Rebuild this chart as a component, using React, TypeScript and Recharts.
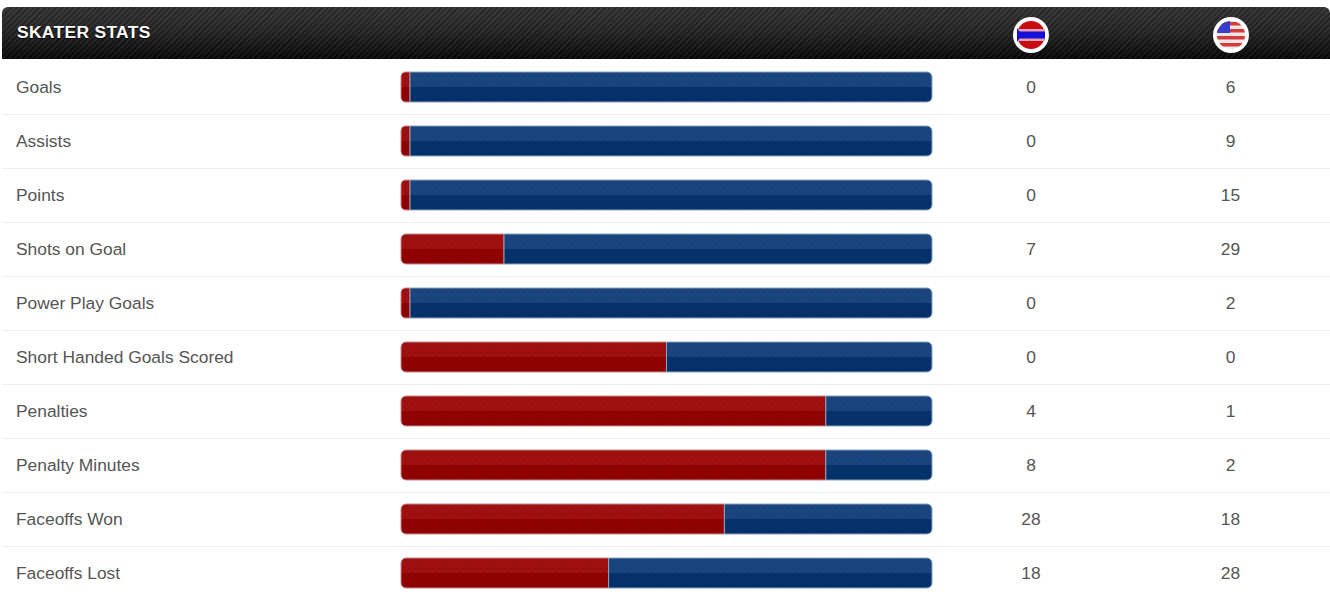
import { Bar, BarChart, XAxis, YAxis } from "recharts";

const categories = [
  "Goals",
  "Assists",
  "Points",
  "Shots on Goal",
  "Power Play Goals",
  "Short Handed Goals Scored",
  "Penalties",
  "Penalty Minutes",
  "Faceoffs Won",
  "Faceoffs Lost",
];
const homeValues = [0, 0, 0, 7, 0, 0, 4, 8, 28, 18];
const awayValues = [6, 9, 15, 29, 2, 0, 1, 2, 18, 28];
// bar shares as drawn, the site keeps a small sliver of red when the value is 0
const homeShare = [1.7, 1.7, 1.7, 19.4, 1.7, 50, 80, 80, 60.9, 39.1];
const awayShare = [98.3, 98.3, 98.3, 80.6, 98.3, 50, 20, 20, 39.1, 60.9];

const data = categories.map((name, i) => ({
  name,
  home: homeShare[i],
  away: awayShare[i],
}));

const RowTick = (props: any) => {
  const { y, index, payload } = props;
  const textProps = {
    y: y + 6,
    fontSize: 17.4,
    fill: "#555",
    fontFamily: "Liberation Sans",
  };
  return (
    <g>
      {index < categories.length - 1 && (
        <line x1={2} x2={1330} y1={y + 27.5} y2={y + 27.5} stroke="#eeeeee" />
      )}
      <text x={16} {...textProps}>
        {payload.value}
      </text>
      <text x={1031} textAnchor="middle" {...textProps}>
        {homeValues[index]}
      </text>
      <text x={1230.5} textAnchor="middle" {...textProps}>
        {awayValues[index]}
      </text>
    </g>
  );
};

// one tile per table row, split in two halves with a faint diagonal weave
const BarTexture = ({ id, top, bottom }: { id: string; top: string; bottom: string }) => (
  <pattern id={id} patternUnits="userSpaceOnUse" width={6} height={54}>
    <rect x={0} y={0} width={6} height={33} fill={top} />
    <rect x={0} y={33} width={6} height={21} fill={bottom} />
    {[18, 24, 30, 36, 42, 48].map((y) => (
      <path
        key={y}
        d={`M0 ${y + 6} L6 ${y}`}
        stroke="#000"
        strokeOpacity={0.05}
        strokeWidth={2}
      />
    ))}
  </pattern>
);

const HomeFlag = () => (
  <svg width={38} height={38} style={{ position: "absolute", left: 1012, top: 16 }}>
    <circle cx={19} cy={19} r={18} fill="#fff" />
    <circle cx={19} cy={19} r={14} fill="#c80c10" />
    <rect x={5} y={13} width={28} height={12} fill="#e0a0b0" />
    <rect x={5} y={15.5} width={28} height={7} fill="#1410d8" />
    <path d="M5 12 L10 19 L5 26 Z" fill="#1410d8" />
  </svg>
);

const AwayFlag = () => (
  <svg width={38} height={38} style={{ position: "absolute", left: 1212, top: 16 }}>
    <defs>
      <clipPath id="usClip">
        <circle cx={19} cy={19} r={14} />
      </clipPath>
    </defs>
    <circle cx={19} cy={19} r={18} fill="#fff" />
    <g clipPath="url(#usClip)">
      <rect x={5} y={5} width={28} height={28} fill="#f0e4e4" />
      <rect x={5} y={6} width={28} height={3.5} fill="#d23c3c" />
      <rect x={5} y={13} width={28} height={3.5} fill="#d23c3c" />
      <rect x={5} y={20} width={28} height={3.5} fill="#d23c3c" />
      <rect x={5} y={27} width={28} height={3.5} fill="#d23c3c" />
      <rect x={5} y={5} width={13} height={12} fill="#3a3ccc" />
    </g>
  </svg>
);

const App = () => {
  return (
    <div
      style={{
        position: "absolute",
        left: 0,
        top: 0,
        width: 1330,
        height: 597,
        overflow: "hidden",
        background: "#fff",
      }}
    >
      <BarChart
        width={1330}
        height={600}
        data={data}
        layout="vertical"
        barSize={30}
        margin={{ top: 60, right: 398, bottom: 0, left: 0 }}
      >
        <defs>
          <BarTexture id="redFill" top="#a21010" bottom="#920202" />
          <BarTexture id="blueFill" top="#1a4680" bottom="#05326c" />
        </defs>
        <XAxis type="number" domain={[0, 100]} hide />
        <YAxis
          type="category"
          dataKey="name"
          width={401}
          axisLine={false}
          tickLine={false}
          interval={0}
          tick={RowTick}
        />
        <Bar
          dataKey="home"
          stackId="a"
          fill="url(#redFill)"
          radius={[5, 0, 0, 5]}
          stroke="#c98a8a"
          strokeWidth={1}
          isAnimationActive={false}
        />
        <Bar
          dataKey="away"
          stackId="a"
          fill="url(#blueFill)"
          radius={[0, 5, 5, 0]}
          stroke="#8aa2c0"
          strokeWidth={1}
          isAnimationActive={false}
        />
      </BarChart>
      <div
        style={{
          position: "absolute",
          left: 2,
          top: 7,
          width: 1328,
          height: 52,
          borderRadius: "6px 6px 0 0",
          background:
            "repeating-linear-gradient(135deg, rgba(255,255,255,0.05) 0 2px, rgba(0,0,0,0.08) 2px 4px), linear-gradient(#303030, #222 50%, #060606)",
        }}
      />
      <div
        style={{
          position: "absolute",
          left: 17,
          top: 23,
          color: "#fff",
          fontFamily: "Liberation Sans",
          fontWeight: "bold",
          fontSize: 17.4,
          lineHeight: "18px",
          letterSpacing: 0.35,
          textShadow: "0 1px 1px #000",
        }}
      >
        SKATER STATS
      </div>
      <HomeFlag />
      <AwayFlag />
    </div>
  );
};

export default App;
